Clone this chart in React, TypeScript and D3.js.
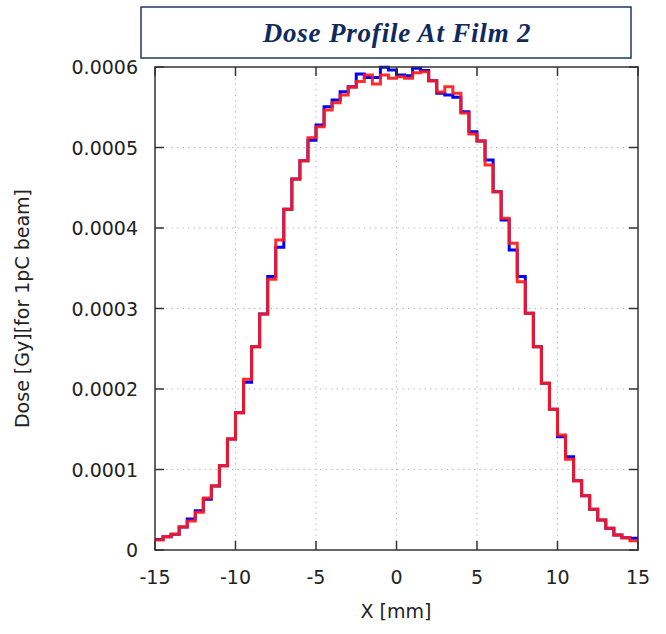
import React from "react";
import * as d3 from "d3";

const binEdgesStart = -15;
const binWidth = 0.5;
// Dose values (units of 1e-4 Gy) per 0.5 mm bin from -15 to 15 mm
const blueSeries = [
  0.13, 0.165, 0.195, 0.286, 0.385, 0.488, 0.63, 0.795, 1.047, 1.379,
  1.706, 2.083, 2.526, 2.932, 3.396, 3.76, 4.232, 4.609, 4.836, 5.09,
  5.28, 5.507, 5.59, 5.693, 5.755, 5.913, 5.87, 5.87, 5.996, 5.963,
  5.9, 5.89, 5.984, 5.955, 5.83, 5.673, 5.652, 5.623, 5.445, 5.197,
  5.08, 4.845, 4.451, 4.1, 3.727, 3.396, 2.94, 2.526, 2.07, 1.748,
  1.408, 1.159, 0.861, 0.675, 0.505, 0.373, 0.27, 0.186, 0.153, 0.145,
];
const redSeries = [
  0.124, 0.165, 0.195, 0.286, 0.36, 0.468, 0.646, 0.795, 1.047, 1.379,
  1.706, 2.12, 2.526, 2.932, 3.363, 3.851, 4.232, 4.609, 4.836, 5.12,
  5.259, 5.466, 5.557, 5.652, 5.748, 5.82, 5.9, 5.79, 5.9, 5.86,
  5.88, 5.86, 5.93, 5.94, 5.83, 5.69, 5.755, 5.673, 5.43, 5.168,
  5.08, 4.783, 4.451, 4.12, 3.81, 3.333, 2.94, 2.526, 2.07, 1.748,
  1.429, 1.127, 0.861, 0.675, 0.505, 0.373, 0.27, 0.186, 0.153, 0.116,
];
const xTicks = [-15, -10, -5, 0, 5, 10, 15];
const yTicks = [0, 0.0001, 0.0002, 0.0003, 0.0004, 0.0005, 0.0006];
const yTickLabels = ["0", "0.0001", "0.0002", "0.0003", "0.0004", "0.0005", "0.0006"];

const W = 666, H = 634;
const L = 155, R = 638, T = 67, B = 550;

export default function App() {
  const x = d3.scaleLinear().domain([-15, 15]).range([L, R]);
  const y = d3.scaleLinear().domain([0, 0.0006]).range([B, T]);

  const toPts = (vals: number[]) => {
    const pts: [number, number][] = [];
    vals.forEach((v, i) => {
      const x0 = binEdgesStart + i * binWidth;
      pts.push([x0, v * 1e-4]);
      pts.push([x0 + binWidth, v * 1e-4]);
    });
    return pts;
  };
  const line = d3
    .line<[number, number]>()
    .x((d) => x(d[0]))
    .y((d) => y(d[1]));

  const font = "DejaVu Sans, sans-serif";
  const tickLen = 9;

  return (
    <svg width={W} height={H} style={{ position: "absolute", left: 0, top: 0 }}>
      <rect x={0} y={0} width={W} height={H} fill="#fff" />
      {/* title box */}
      <rect x={141} y={7} width={490} height={51} fill="#fff" stroke="#1f3864" strokeWidth={1.5} />
      <text
        x={397}
        y={42}
        textAnchor="middle"
        fontFamily="Liberation Serif, serif"
        fontStyle="italic"
        fontWeight="bold"
        fontSize={27}
        fill="#0f2a5e"
        letterSpacing={0.8}
      >
        Dose Profile At Film 2
      </text>

      {/* grid */}
      {xTicks.slice(1, -1).map((t) => (
        <line key={"gx" + t} x1={x(t)} x2={x(t)} y1={T} y2={B} stroke="#bdbdbd" strokeWidth={1} strokeDasharray="1.5,4" />
      ))}
      {yTicks.slice(1, -1).map((t) => (
        <line key={"gy" + t} x1={L} x2={R} y1={y(t)} y2={y(t)} stroke="#bdbdbd" strokeWidth={1} strokeDasharray="1.5,4" />
      ))}

      {/* series */}
      <path d={line(toPts(blueSeries)) || ""} fill="none" stroke="#0000ff" strokeWidth={3} strokeLinejoin="miter" />
      <path d={line(toPts(redSeries)) || ""} fill="none" stroke="#ff1a1a" strokeWidth={3} strokeLinejoin="miter" strokeOpacity={0.92} />

      {/* frame */}
      <rect x={L} y={T} width={R - L} height={B - T} fill="none" stroke="#333" strokeWidth={1.5} />

      {/* ticks */}
      {xTicks.map((t) => (
        <g key={"tx" + t}>
          <line x1={x(t)} x2={x(t)} y1={B} y2={B - tickLen} stroke="#333" strokeWidth={1.5} />
          <line x1={x(t)} x2={x(t)} y1={T} y2={T + tickLen} stroke="#333" strokeWidth={1.5} />
          <text x={x(t)} y={B + 34} textAnchor="middle" fontFamily={font} fontSize={19} fill="#222">
            {t}
          </text>
        </g>
      ))}
      {yTicks.map((t, i) => (
        <g key={"ty" + t}>
          <line x1={L} x2={L + tickLen} y1={y(t)} y2={y(t)} stroke="#333" strokeWidth={1.5} />
          <line x1={R} x2={R - tickLen} y1={y(t)} y2={y(t)} stroke="#333" strokeWidth={1.5} />
          <text x={138} y={y(t) + 7} textAnchor="end" fontFamily={font} fontSize={19} fill="#222">
            {yTickLabels[i]}
          </text>
        </g>
      ))}

      {/* axis labels */}
      <text x={396} y={618} textAnchor="middle" fontFamily={font} fontSize={19} fill="#222">
        X [mm]
      </text>
      <text
        transform={`translate(29, ${(T + B) / 2}) rotate(-90)`}
        textAnchor="middle"
        fontFamily={font}
        fontSize={19}
        fill="#222"
      >
        Dose [Gy][for 1pC beam]
      </text>
    </svg>
  );
}
